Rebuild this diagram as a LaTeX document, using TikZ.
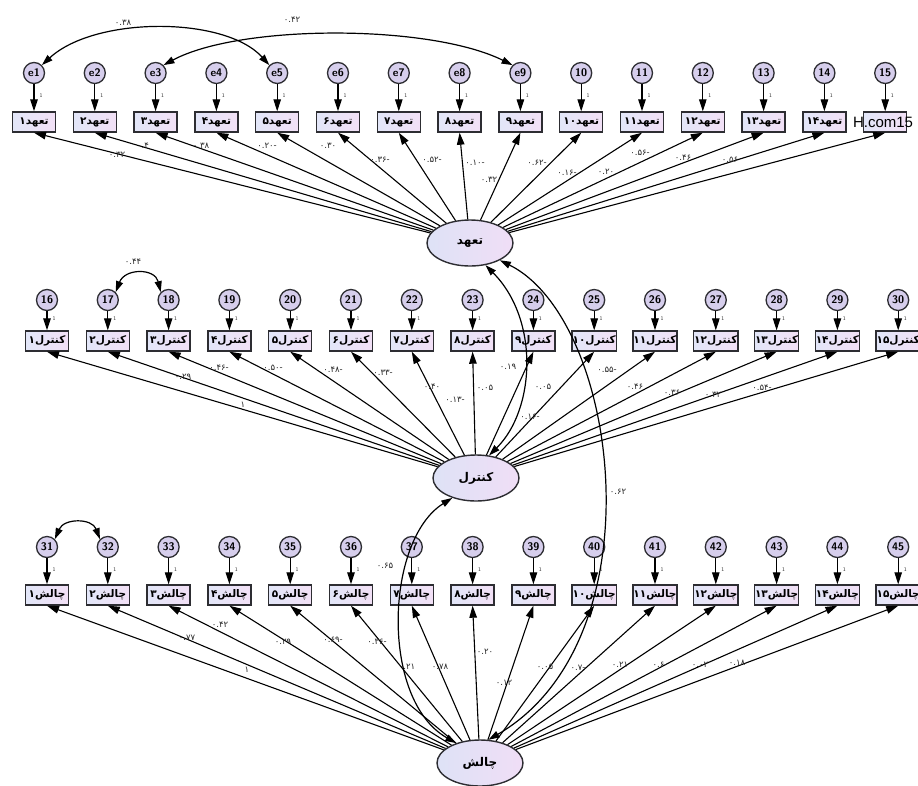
\documentclass[tikz,border=0pt]{standalone}
\usepackage{fontspec}
\usetikzlibrary{arrows.meta,shapes.geometric}
\newfontfamily\arabicfont[Script=Arabic]{DejaVu Sans}
\newfontfamily\wmfont{Liberation Sans}
\TeXXeTstate=1
\definecolor{boxL}{RGB}{226,230,248}
\definecolor{boxR}{RGB}{242,224,246}
\definecolor{errfill}{RGB}{214,206,236}
\definecolor{latL}{RGB}{222,226,246}
\definecolor{latR}{RGB}{240,222,246}
\definecolor{edge}{RGB}{45,45,50}
\tikzset{
  obs/.style={draw=edge, line width=1.4pt, left color=boxL, right color=boxR, minimum width=43pt, minimum height=20pt, inner sep=0.5pt,
    font=\arabicfont\bfseries\fontsize{10.5}{11}\selectfont},
  err/.style={circle, draw=edge, line width=1.3pt, fill=errfill, minimum size=21pt, inner sep=0pt,
    font=\sffamily\bfseries\fontsize{11}{11}\selectfont},
  lat/.style={ellipse, draw=edge, line width=1.4pt, left color=latL, right color=latR, minimum width=86pt, minimum height=46pt,
    font=\arabicfont\bfseries\fontsize{12}{13}\selectfont},
  ld/.style={-{Triangle[length=12pt,width=7.5pt]}, line width=1.1pt, draw=black},
  cov/.style={{Triangle[length=11pt,width=7pt]}-{Triangle[length=11pt,width=7pt]}, line width=1.2pt, draw=black},
  wt/.style={font=\arabicfont\fontsize{8.5}{9}\selectfont, inner sep=0.5pt, text=black!85},
  one/.style={font=\sffamily\fontsize{5.5}{6}\selectfont, inner sep=0pt, text=black!80},
}
\begin{document}
\begin{tikzpicture}[x=1pt,y=-1pt]
\useasboundingbox (0,0) rectangle (918,785);
\fill[white] (0,0) rectangle (918,785);

% latent variables
\node[lat] (E1) at (470,243) {\beginR تعهد\endR};
\node[lat] (E2) at (476,478) {\beginR کنترل\endR};
\node[lat] (E3) at (480,763) {\beginR چالش\endR};

% indicators, errors, loadings
\foreach \i/\d in {1/۱,2/۲,3/۳,4/۴,5/۵,6/۶,7/۷,8/۸,9/۹,10/۱۰,11/۱۱,12/۱۲,13/۱۳,14/۱۴,15/۱۵}{
  \pgfmathsetmacro\xa{34+60.8*(\i-1)}
  \pgfmathsetmacro\xb{47+60.8*(\i-1)}
  \pgfmathtruncatemacro\j{\i+15}
  \pgfmathtruncatemacro\k{\i+30}
  \node[err] (c\i) at (\xa,73) {\ifnum\i<10 e\i\else\i\fi};
  \node[err] (c\j) at (\xb,300) {\j};
  \node[err] (c\k) at (\xb,547) {\k};
  \ifnum\i<15
    \node[obs] (b\i) at (\xa,122) {\beginR تعهد\d\endR};
  \else
    \node[obs] (b\i) at (\xa,122) {};
  \fi
  \node[obs] (b\j) at (\xb,341) {\beginR کنترل\d\endR};
  \node[obs] (b\k) at (\xb,595) {\beginR چالش\d\endR};
  \draw[ld] (c\i) -- (b\i);
  \draw[ld] (c\j) -- (b\j);
  \draw[ld] (c\k) -- (b\k);
  \node[one] (o\i) at (\xa+7,96) {1};
  \node[one] (o\j) at (\xb+7,319) {1};
  \node[one] (o\k) at (\xb+7,570) {1};
  \draw[ld] (E1) -- (b\i.south);
  \draw[ld] (E2) -- (b\j.south);
  \draw[ld] (E3) -- (b\k.south);
}
\node[font=\wmfont\fontsize{15}{16}\selectfont, inner sep=0pt] (wm) at (883,122) {H.com15};

% error covariances
\draw[cov] (c5.north west) .. controls (225,16) and (95,16) .. (c1.north east);
\draw[cov] (c3.north east) .. controls (240,24) and (430,24) .. (c9.north west);
\draw[cov] (c17.north east) .. controls (125,268) and (155,268) .. (c18.north west);
\draw[cov] (c31.north east) .. controls (64,518) and (92,518) .. (c32.north west);

% latent covariances
\draw[cov] (E1.305) .. controls (540,320) and (535,410) .. (E2.60);
\draw[cov] (E1.330) .. controls (620,320) and (660,640) .. (E3.70);
\draw[cov] (E2.220) .. controls (385,540) and (380,700) .. (E3.140);

% weights
\foreach \x/\y/\t [count=\n] in {
  123/23/۰.۳۸, 292/20/۰.۴۲,
  117/155/۰.۳۲, 143/146/۰.۴, 201/146/۰.۳۸, 267/146/-۰.۲۰, 328/146/۰.۳۰, 380/160/-۰.۳۶, 432/160/-۰.۵۲,
  475/163/-۰.۱۰, 489/180/۰.۳۲, 537/163/-۰.۶۲, 567/173/-۰.۱۶, 606/172/۰.۲۰, 640/153/-۰.۵۶, 683/158/۰.۴۶, 730/160/۰.۵۶,
  133/262/۰.۴۴,
  183/377/۰.۲۹, 219/368/-۰.۴۶, 273/368/-۰.۵۰, 333/370/-۰.۴۸, 383/373/-۰.۳۳, 432/387/۰.۴۰, 455/400/-۰.۱۳, 485/388/۰.۰۵,
  243/405/۱, 508/367/۰.۱۹, 543/387/۰.۰۵, 530/417/-۰.۱۶, 607/370/-۰.۵۵, 635/387/۰.۴۶, 672/393/۰.۳۶, 713/395/۰.۳۲, 762/388/-۰.۵۴,
  618/492/۰.۶۲, 385/566/۰.۶۵,
  187/638/۰.۷۷, 247/670/۱, 220/625/۰.۴۲, 283/642/۰.۲۹, 333/640/-۰.۶۹, 377/642/-۰.۳۶, 407/667/۰.۲۱, 440/667/۰.۷۸,
  485/652/۰.۲۰, 504/683/۰.۱۲, 545/667/۰.۰۵, 578/668/-۰.۷, 620/665/۰.۲۱, 660/665/-۰.۶, 700/665/۰.۰۲, 737/663/۰.۱۸}
  \node[wt] (w\n) at (\x,\y) {\t};
\end{tikzpicture}
\end{document}
